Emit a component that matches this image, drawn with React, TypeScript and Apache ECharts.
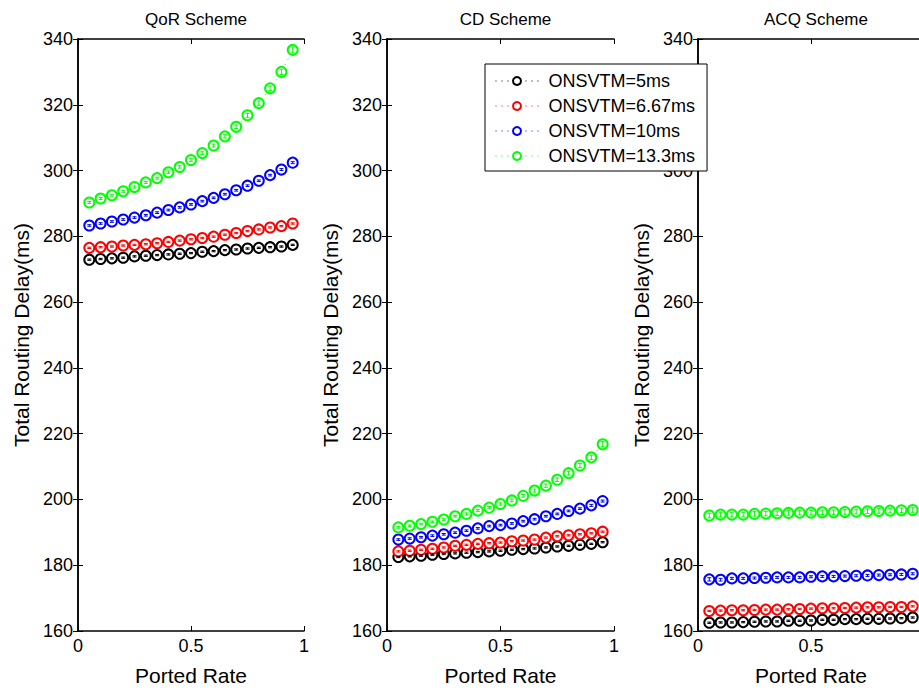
import React, { useEffect, useRef } from "react";
import * as echarts from "echarts";

const rate = [0.05, 0.1, 0.15, 0.2, 0.25, 0.3, 0.35, 0.4, 0.45, 0.5, 0.55, 0.6, 0.65, 0.7, 0.75, 0.8, 0.85, 0.9, 0.95];

const seriesNames = ["ONSVTM=5ms", "ONSVTM=6.67ms", "ONSVTM=10ms", "ONSVTM=13.3ms"];
const seriesColors = ["#000000", "#ff0000", "#0000ff", "#00ff00"];
const panelTitles = ["QoR Scheme", "CD Scheme", "ACQ Scheme"];
const xTicks = { min: 0, max: 1, interval: 0.5 };
const yTicks = { min: 160, max: 340, interval: 20 };

// QoR scheme
const qorBlack = [272.9, 273.1, 273.3, 273.5, 273.9, 274.1, 274.3, 274.5, 274.7, 274.9, 275.3, 275.5, 275.8, 276.0, 276.3, 276.5, 276.7, 276.9, 277.4];
const qorRed = [276.5, 276.7, 276.9, 277.2, 277.4, 277.6, 277.9, 278.3, 278.7, 279.1, 279.5, 279.9, 280.5, 281.0, 281.6, 282.1, 282.7, 283.1, 283.9];
const qorBlue = [283.3, 283.9, 284.5, 285.1, 285.7, 286.4, 287.2, 288.0, 288.8, 289.7, 290.7, 291.7, 292.8, 294.0, 295.4, 296.9, 298.6, 300.3, 302.4];
const qorGreen = [290.3, 291.5, 292.5, 293.7, 295.0, 296.4, 297.7, 299.5, 301.1, 303.2, 305.3, 307.6, 310.4, 313.3, 316.8, 320.5, 325.0, 330.0, 336.7];

// CD scheme
const cdBlack = [182.5, 182.7, 182.9, 183.2, 183.4, 183.6, 183.8, 184.0, 184.2, 184.4, 184.7, 184.9, 185.1, 185.4, 185.7, 185.9, 186.2, 186.5, 187.0];
const cdRed = [184.2, 184.4, 184.7, 185.0, 185.4, 185.9, 186.2, 186.5, 186.7, 186.9, 187.3, 187.5, 187.8, 188.4, 188.8, 189.1, 189.4, 189.7, 190.2];
const cdBlue = [187.8, 188.1, 188.5, 189.0, 189.4, 189.9, 190.5, 191.2, 191.9, 192.2, 192.7, 193.4, 194.0, 194.9, 195.6, 196.5, 197.2, 198.2, 199.5];
const cdGreen = [191.5, 192.0, 192.5, 193.2, 193.9, 194.9, 195.6, 196.6, 197.5, 198.6, 199.7, 201.1, 202.7, 204.2, 206.0, 208.0, 210.3, 212.8, 216.8];

// ACQ scheme
const acqBlack = [162.5, 162.6, 162.6, 162.7, 162.8, 162.9, 162.9, 163.1, 163.1, 163.2, 163.4, 163.4, 163.6, 163.6, 163.7, 163.7, 163.8, 163.9, 164.1];
const acqRed = [166.1, 166.2, 166.3, 166.3, 166.4, 166.5, 166.5, 166.6, 166.7, 166.8, 166.9, 166.9, 167.0, 167.1, 167.2, 167.2, 167.3, 167.3, 167.5];
const acqBlue = [175.7, 175.6, 176.0, 176.0, 176.1, 176.2, 176.3, 176.3, 176.3, 176.5, 176.6, 176.6, 176.7, 176.8, 176.9, 177.0, 177.1, 177.2, 177.4];
const acqGreen = [195.1, 195.4, 195.4, 195.4, 195.6, 195.7, 195.8, 195.9, 196.0, 196.0, 196.1, 196.1, 196.2, 196.3, 196.4, 196.5, 196.6, 196.7, 196.8];

// error half-widths
const errSmall = [0.2, 0.2, 0.2, 0.2, 0.2, 0.2, 0.2, 0.2, 0.2, 0.2, 0.2, 0.2, 0.2, 0.2, 0.2, 0.2, 0.2, 0.2, 0.2];
const errMid = [0.25, 0.25, 0.25, 0.25, 0.25, 0.25, 0.25, 0.25, 0.25, 0.25, 0.25, 0.25, 0.25, 0.25, 0.25, 0.25, 0.25, 0.3, 0.3];
const qorGreenErr = [0.3, 0.3, 0.3, 0.3, 0.3, 0.3, 0.3, 0.35, 0.35, 0.4, 0.4, 0.45, 0.5, 0.55, 0.6, 0.65, 0.7, 0.8, 0.9];
const cdGreenErr = [0.25, 0.25, 0.25, 0.25, 0.25, 0.25, 0.3, 0.3, 0.35, 0.35, 0.4, 0.4, 0.45, 0.5, 0.55, 0.6, 0.65, 0.7, 0.8];
const acqBlueErr = [0.5, 0.4, 0.3, 0.3, 0.3, 0.3, 0.3, 0.3, 0.3, 0.3, 0.3, 0.3, 0.3, 0.3, 0.3, 0.3, 0.3, 0.3, 0.3];
const acqGreenErr = [0.7, 0.7, 0.7, 0.7, 0.7, 0.7, 0.7, 0.7, 0.7, 0.7, 0.7, 0.7, 0.7, 0.7, 0.7, 0.7, 0.7, 0.7, 0.7];

const panels = [
  { values: [qorBlack, qorRed, qorBlue, qorGreen], errors: [errSmall, errSmall, errMid, qorGreenErr] },
  { values: [cdBlack, cdRed, cdBlue, cdGreen], errors: [errSmall, errSmall, errMid, cdGreenErr] },
  { values: [acqBlack, acqRed, acqBlue, acqGreen], errors: [errSmall, errSmall, acqBlueErr, acqGreenErr] },
];

const FONT = "'Liberation Sans', Arial, Helvetica, sans-serif";
const gridBoxes = [
  { left: 78, width: 226 },
  { left: 387, width: 227 },
  { left: 698, width: 226 },
];
const TOP = 39;
const HEIGHT = 598;

export default function App() {
  const ref = useRef<HTMLDivElement>(null);
  useEffect(() => {
    if (!ref.current) return;
    const chart = echarts.init(ref.current, null, { renderer: "svg" });

    const grids = gridBoxes.map((g) => ({ left: g.left, width: g.width, top: TOP, height: HEIGHT, containLabel: false }));
    const xAxes: any[] = [];
    const yAxes: any[] = [];
    gridBoxes.forEach((_, i) => {
      xAxes.push({
        type: "value", gridIndex: i, position: "bottom", ...xTicks,
        name: "Ported Rate", nameLocation: "middle", nameGap: 34,
        nameTextStyle: { fontSize: 21, color: "#000", fontFamily: FONT },
        axisLine: { show: true, lineStyle: { color: "#000", width: 1.5 } },
        axisTick: { show: true, inside: true, length: 5, lineStyle: { color: "#000" } },
        axisLabel: { fontSize: 18, color: "#000", fontFamily: FONT, margin: 6, showMaxLabel: i < 2 },
        splitLine: { show: false },
      });
      xAxes.push({
        type: "value", gridIndex: i, position: "top", ...xTicks,
        axisLine: { show: true, lineStyle: { color: "#000", width: 1.5 } },
        axisTick: { show: true, inside: true, length: 5, lineStyle: { color: "#000" } },
        axisLabel: { show: false }, splitLine: { show: false },
      });
      yAxes.push({
        type: "value", gridIndex: i, position: "left", ...yTicks,
        name: "Total Routing Delay(ms)", nameLocation: "middle", nameGap: 46,
        nameTextStyle: { fontSize: 21, color: "#000", fontFamily: FONT },
        axisLine: { show: true, lineStyle: { color: "#000", width: 1.5 } },
        axisTick: { show: true, inside: true, length: 5, lineStyle: { color: "#000" } },
        axisLabel: { fontSize: 18, color: "#000", fontFamily: FONT, margin: 5 },
        splitLine: { show: false },
      });
      yAxes.push({
        type: "value", gridIndex: i, position: "right", ...yTicks,
        axisLine: { show: true, lineStyle: { color: "#000", width: 1.5 } },
        axisTick: { show: true, inside: true, length: 5, lineStyle: { color: "#000" } },
        axisLabel: { show: false }, splitLine: { show: false },
      });
    });

    const series: any[] = [];
    panels.forEach((p, pi) => {
      p.values.forEach((vals, si) => {
        const color = seriesColors[si];
        series.push({
          type: "line",
          name: seriesNames[si],
          xAxisIndex: pi * 2,
          yAxisIndex: pi * 2,
          data: rate.map((r, k) => [r, vals[k]]),
          symbol: "emptyCircle",
          symbolSize: 10,
          showSymbol: true,
          lineStyle: { type: [1, 5], width: 1, color },
          itemStyle: { color, borderColor: color, borderWidth: 1 },
          z: 3,
        });
        const errs = p.errors[si];
        series.push({
          type: "custom",
          name: "err-" + pi + "-" + si,
          xAxisIndex: pi * 2,
          yAxisIndex: pi * 2,
          data: rate.map((r, k) => [r, vals[k], errs[k]]),
          encode: { x: 0, y: 1 },
          z: 4,
          renderItem: (params: any, api: any) => {
            const x = api.value(0);
            const y = api.value(1);
            const e = api.value(2);
            const top = api.coord([x, y + e]);
            const bot = api.coord([x, y - e]);
            const w = 2;
            const st = { stroke: color, lineWidth: 1 };
            return {
              type: "group",
              children: [
                { type: "line", shape: { x1: top[0], y1: top[1], x2: bot[0], y2: bot[1] }, style: st },
                { type: "line", shape: { x1: top[0] - w, y1: top[1], x2: top[0] + w, y2: top[1] }, style: st },
                { type: "line", shape: { x1: bot[0] - w, y1: bot[1], x2: bot[0] + w, y2: bot[1] }, style: st },
              ],
            };
          },
        });
      });
    });

    chart.setOption({
      animation: false,
      backgroundColor: "#ffffff",
      title: panelTitles.map((t, i) => ({
        text: t,
        left: gridBoxes[i].left + gridBoxes[i].width / 2,
        top: 6,
        textAlign: "center",
        textStyle: { fontSize: 17, fontWeight: "normal", color: "#000", fontFamily: FONT },
      })),
      legend: {
        data: seriesNames,
        orient: "vertical",
        left: 485,
        top: 64,
        padding: [8, 12, 6, 10],
        itemGap: 7,
        itemWidth: 43,
        itemHeight: 10,
        backgroundColor: "#ffffff",
        borderColor: "#000",
        borderWidth: 1,
        z: 10,
        lineStyle: { width: 1, type: [1, 5] },
        itemStyle: { borderWidth: 0.8 },
        textStyle: { fontSize: 18, color: "#000", fontFamily: FONT, padding: [0, 0, 0, 5] },
      },
      grid: grids,
      xAxis: xAxes,
      yAxis: yAxes,
      series,
    });
    return () => chart.dispose();
  }, []);
  return (
    <div style={{ position: "fixed", left: 0, top: 0, width: 919, height: 691, overflow: "hidden" }}>
      <div ref={ref} style={{ width: 945, height: 691 }} />
    </div>
  );
}
